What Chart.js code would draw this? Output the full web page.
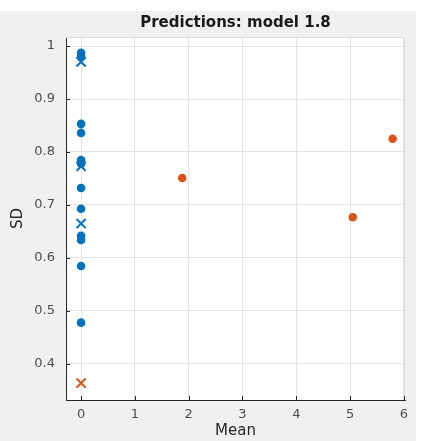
<!DOCTYPE html>
<html>
<head>
<meta charset="utf-8">
<script src="https://cdn.jsdelivr.net/npm/chart.js@4.4.0/dist/chart.umd.min.js"></script>
<style>
  html, body { margin: 0; padding: 0; background: #ffffff; }
  #wrap { width: 425px; height: 441px; }
</style>
</head>
<body>
<div id="wrap"><canvas id="mycanvas" width="425" height="441"></canvas></div>
<script>
// Data
// Blue series: predictions sitting at mean 0
var blueDotMean = [0, 0, 0, 0, 0, 0, 0, 0, 0, 0, 0, 0];
var blueDotSD   = [0.987, 0.981, 0.853, 0.836, 0.785, 0.778, 0.732, 0.693, 0.642, 0.634, 0.585, 0.478];
var blueCrossMean = [0, 0, 0];
var blueCrossSD   = [0.970, 0.773, 0.665];
// Orange series
var orangeDotMean = [1.88, 5.05, 5.79];
var orangeDotSD   = [0.751, 0.677, 0.825];
var orangeCrossMean = [0];
var orangeCrossSD   = [0.364];
// Axis ticks
var xTicks = [0, 1, 2, 3, 4, 5, 6];
var yTicks = [0.4, 0.5, 0.6, 0.7, 0.8, 0.9, 1];

var blue = '#0072BD';
var orange = '#D95319';
var axisColor = '#262626';
var fontFamily = '"DejaVu Sans", Verdana, sans-serif';

function toPoints(xs, ys)
{
  var pts = [];
  for (var i = 0; i < xs.length; i++)
  {
    pts.push({ x: xs[i], y: ys[i] });
  }
  return pts;
}

function fixTicks(list)
{
  return function (scale)
  {
    scale.ticks = list.map(function (v) { return { value: v }; });
  };
}

// Grey figure background, white axes area, light box
var backgroundPlugin =
{
  id: 'figureBackground',
  beforeDraw: function (chart)
  {
    var c = chart.ctx;
    var a = chart.chartArea;
    c.save();
    c.fillStyle = '#ffffff';
    c.fillRect(0, 0, chart.width, chart.height);
    c.fillStyle = '#f0f0f0';
    c.fillRect(0, 11, 416, chart.height - 11);
    c.fillStyle = '#ffffff';
    c.fillRect(a.left, a.top, a.right - a.left, a.bottom - a.top);
    c.restore();
  },
  afterDraw: function (chart)
  {
    // inward tick marks, matlab style
    var c = chart.ctx;
    var a = chart.chartArea;
    var xs = chart.scales.x;
    var ys = chart.scales.y;
    c.save();
    c.strokeStyle = '#dcdcdc';
    c.lineWidth = 1;
    c.beginPath();
    c.moveTo(a.left, a.top + 0.5);
    c.lineTo(a.right - 0.5, a.top + 0.5);
    c.lineTo(a.right - 0.5, a.bottom);
    c.stroke();
    c.strokeStyle = axisColor;
    c.beginPath();
    xTicks.forEach(function (v)
    {
      var px = Math.round(xs.getPixelForValue(v)) + 0.5;
      c.moveTo(px, a.bottom);
      c.lineTo(px, a.bottom - 4);
    });
    yTicks.forEach(function (v)
    {
      var py = Math.round(ys.getPixelForValue(v)) + 0.5;
      c.moveTo(a.left, py);
      c.lineTo(a.left + 4, py);
    });
    c.stroke();
    c.restore();
  }
};

var ctx = document.getElementById('mycanvas');

var scatter = new Chart(ctx,
{
  type: 'scatter',
  data:
  {
    datasets:
    [
      {
        label: 'blue dots',
        data: toPoints(blueDotMean, blueDotSD),
        pointStyle: 'circle',
        pointRadius: 4.3,
        backgroundColor: blue,
        borderColor: blue,
        borderWidth: 0
      },
      {
        label: 'blue crosses',
        data: toPoints(blueCrossMean, blueCrossSD),
        pointStyle: 'crossRot',
        pointRadius: 6.5,
        backgroundColor: blue,
        borderColor: blue,
        borderWidth: 2
      },
      {
        label: 'orange dots',
        data: toPoints(orangeDotMean, orangeDotSD),
        pointStyle: 'circle',
        pointRadius: 4.3,
        backgroundColor: orange,
        borderColor: orange,
        borderWidth: 0
      },
      {
        label: 'orange crosses',
        data: toPoints(orangeCrossMean, orangeCrossSD),
        pointStyle: 'crossRot',
        pointRadius: 6.5,
        backgroundColor: orange,
        borderColor: orange,
        borderWidth: 2
      }
    ]
  },
  options:
  {
    responsive: false,
    animation: false,
    events: [],
    layout: { padding: { top: 11, left: 0, right: 20, bottom: 0 } },
    plugins:
    {
      legend: { display: false },
      tooltip: { enabled: false },
      title:
      {
        display: true,
        text: 'Predictions: model 1.8',
        fullSize: false,
        color: '#1a1a1a',
        font: { family: fontFamily, size: 15, weight: 'bold', lineHeight: 1 },
        padding: { top: 5, bottom: 6 }
      }
    },
    scales:
    {
      x:
      {
        type: 'linear',
        min: -0.28,
        max: 6.02,
        afterBuildTicks: fixTicks(xTicks),
        afterFit: function (scale) { scale.height = 41; },
        grid: { color: '#e3e3e3', drawTicks: false },
        border: { display: true, color: axisColor, width: 1 },
        ticks:
        {
          padding: 7,
          color: '#4d4d4d',
          font: { family: fontFamily, size: 13 },
          callback: function (v) { return String(v); }
        },
        title:
        {
          display: true,
          text: 'Mean',
          color: '#262626',
          font: { family: fontFamily, size: 15 },
          padding: { top: 0, bottom: 1 }
        }
      },
      y:
      {
        type: 'linear',
        min: 0.332,
        max: 1.017,
        afterBuildTicks: fixTicks(yTicks),
        afterFit: function (scale) { scale.width = 66; },
        grid: { color: '#e3e3e3', drawTicks: false },
        border: { display: true, color: axisColor, width: 1 },
        ticks:
        {
          padding: 11,
          color: '#4d4d4d',
          font: { family: fontFamily, size: 13 },
          callback: function (v) { return String(Math.round(v * 10) / 10); }
        },
        title:
        {
          display: true,
          text: 'SD',
          color: '#262626',
          font: { family: fontFamily, size: 15 },
          padding: { top: 9, bottom: 0 }
        }
      }
    }
  },
  plugins: [backgroundPlugin]
});
</script>
</body>
</html>
